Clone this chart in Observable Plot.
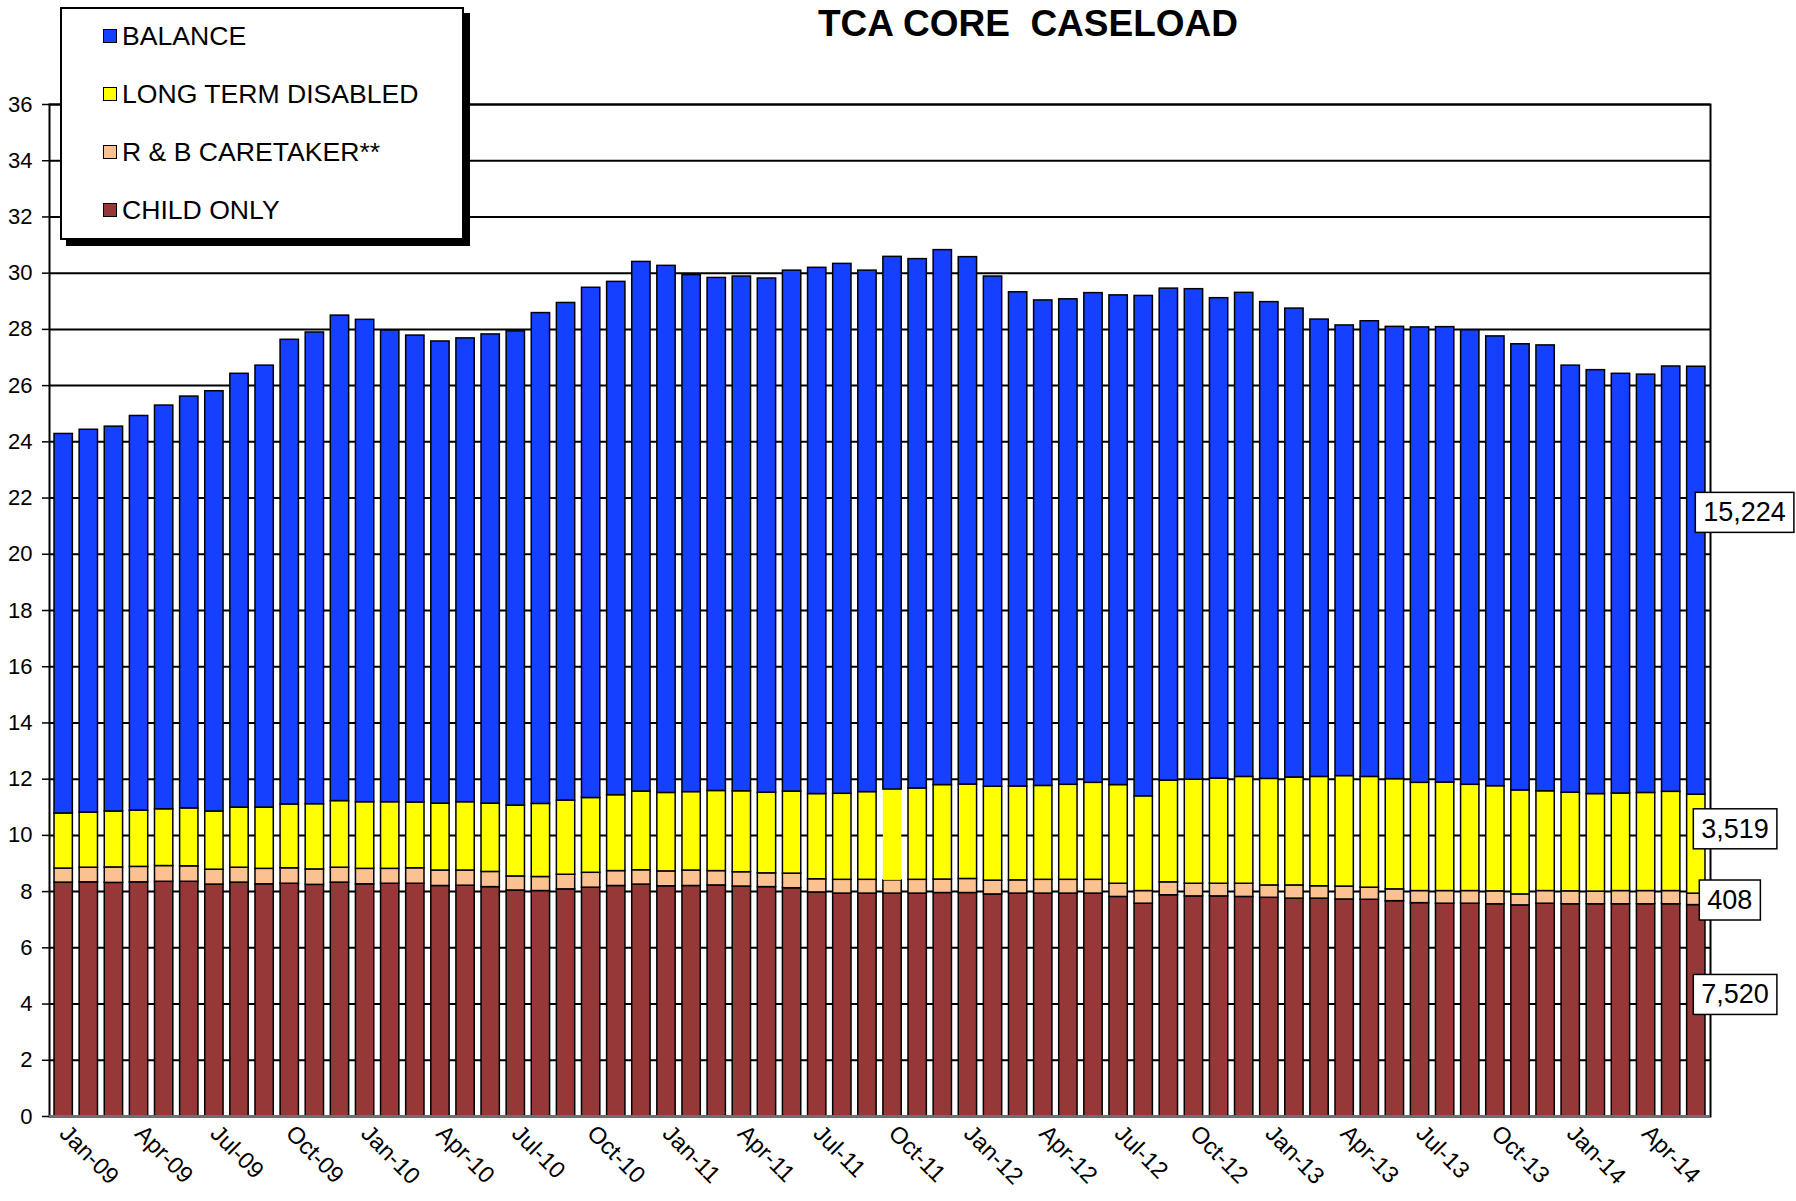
<!DOCTYPE html>
<html>
<head>
<meta charset="utf-8">
<script src="https://cdn.jsdelivr.net/npm/d3@7"></script>
<script src="https://cdn.jsdelivr.net/npm/@observablehq/plot@0.6"></script>
<style>
  html, body { margin: 0; padding: 0; background: #fff; }
  body { width: 1796px; height: 1201px; position: relative; overflow: hidden; font-family: "Liberation Sans", Arial, sans-serif; }
  #chart { position: absolute; left: 0; top: 0; }
  #title { position: absolute; left: 0; width: 2056px; top: 3px; text-align: center; font-weight: bold; font-size: 37px; white-space: pre; color: #000; }
  #legend { position: absolute; left: 60px; top: 7px; width: 400px; height: 229px; border: 2px solid #000; background: #fff; box-shadow: 6px 6px 0 #000; }
  .item { position: absolute; left: 41px; font-size: 26.6px; line-height: 30px; height: 30px; display: flex; align-items: center; white-space: pre; }
  .sw { width: 12px; height: 12px; border: 1.5px solid #000; margin-right: 5px; }
</style>
</head>
<body>
<div id="chart"></div>
<div id="title">TCA CORE  CASELOAD</div>
<div id="legend"></div>
<script>
// ---- data (thousands of cases) ----
const months = [
  "Jan-09","Feb-09","Mar-09","Apr-09","May-09","Jun-09","Jul-09","Aug-09","Sep-09","Oct-09","Nov-09","Dec-09",
  "Jan-10","Feb-10","Mar-10","Apr-10","May-10","Jun-10","Jul-10","Aug-10","Sep-10","Oct-10","Nov-10","Dec-10",
  "Jan-11","Feb-11","Mar-11","Apr-11","May-11","Jun-11","Jul-11","Aug-11","Sep-11","Oct-11","Nov-11","Dec-11",
  "Jan-12","Feb-12","Mar-12","Apr-12","May-12","Jun-12","Jul-12","Aug-12","Sep-12","Oct-12","Nov-12","Dec-12",
  "Jan-13","Feb-13","Mar-13","Apr-13","May-13","Jun-13","Jul-13","Aug-13","Sep-13","Oct-13","Nov-13","Dec-13",
  "Jan-14","Feb-14","Mar-14","Apr-14","May-14","Jun-14"
];
const childOnly = [
  8.32,8.33,8.31,8.33,8.35,8.35,8.25,8.32,8.26,8.28,8.24,8.32,
  8.26,8.28,8.28,8.20,8.21,8.16,8.04,8.02,8.08,8.14,8.20,8.25,
  8.19,8.20,8.22,8.18,8.16,8.12,7.97,7.93,7.93,7.93,7.93,7.95,
  7.95,7.90,7.93,7.93,7.93,7.93,7.81,7.57,7.87,7.83,7.83,7.81,
  7.78,7.75,7.75,7.72,7.71,7.66,7.59,7.57,7.57,7.55,7.51,7.57,
  7.55,7.55,7.55,7.55,7.55,7.520
];
const rbCaretaker = [
  0.50,0.52,0.55,0.55,0.56,0.55,0.53,0.53,0.55,0.55,0.55,0.53,
  0.55,0.53,0.55,0.55,0.54,0.54,0.50,0.50,0.52,0.53,0.53,0.51,
  0.53,0.55,0.51,0.51,0.49,0.52,0.47,0.49,0.49,0.47,0.49,0.48,
  0.50,0.49,0.47,0.49,0.49,0.49,0.47,0.45,0.46,0.45,0.45,0.47,
  0.44,0.47,0.44,0.46,0.43,0.42,0.43,0.45,0.45,0.46,0.39,0.45,
  0.46,0.45,0.47,0.47,0.47,0.408
];
const longTermDisabled = [
  1.96,1.96,1.99,2.00,2.02,2.06,2.07,2.14,2.18,2.27,2.32,2.37,
  2.37,2.37,2.34,2.38,2.43,2.43,2.52,2.60,2.64,2.66,2.70,2.80,
  2.79,2.79,2.85,2.88,2.87,2.92,3.03,3.06,3.12,3.23,3.25,3.36,
  3.36,3.34,3.34,3.34,3.38,3.45,3.51,3.37,3.62,3.70,3.74,3.80,
  3.79,3.84,3.89,3.93,3.94,3.92,3.85,3.86,3.78,3.74,3.70,3.55,
  3.51,3.47,3.47,3.49,3.53,3.519
];
const balance = [
  13.50,13.62,13.69,14.04,14.36,14.65,14.95,15.43,15.72,16.53,16.78,17.27,
  17.16,16.78,16.61,16.44,16.50,16.69,16.87,17.46,17.70,18.15,18.26,18.84,
  18.75,18.39,18.25,18.31,18.29,18.53,18.72,18.85,18.55,18.95,18.83,19.03,
  18.76,18.15,17.58,17.27,17.27,17.42,17.42,17.80,17.50,17.45,17.09,17.22,
  16.96,16.68,16.27,16.03,16.21,16.09,16.20,16.20,16.17,16.00,15.87,15.86,
  15.19,15.08,14.93,14.88,15.13,15.224
];
const seriesNames = ["CHILD ONLY", "R & B CARETAKER**", "LONG TERM DISABLED", "BALANCE"];
const legendOrder = ["BALANCE", "LONG TERM DISABLED", "R & B CARETAKER**", "CHILD ONLY"];
const endLabels = ["7,520", "408", "3,519", "15,224"]; // same order as seriesNames
const yTicks = [0,2,4,6,8,10,12,14,16,18,20,22,24,26,28,30,32,34,36];

// ---- styles ----
const colors = {
  "CHILD ONLY": "#963838",
  "R & B CARETAKER**": "#fbc190",
  "LONG TERM DISABLED": "#ffff00",
  "BALANCE": "#1540ff"
};
const labelDy = {"CHILD ONLY": -16, "R & B CARETAKER**": 1, "LONG TERM DISABLED": -15, "BALANCE": -68};
const labelDx = {"CHILD ONLY": 5, "R & B CARETAKER**": 11, "LONG TERM DISABLED": 5, "BALANCE": 7};

// ---- build table ----
const seriesValues = [childOnly, rbCaretaker, longTermDisabled, balance];
const table = [];
months.forEach((m, i) => {
  seriesNames.forEach((s, j) => table.push({month: m, series: s, value: seriesValues[j][i]}));
});

// mid points of the last bar's segments for the end labels
const last = months.length - 1;
let acc = 0;
const labelRows = seriesNames.map((s, j) => {
  const v = seriesValues[j][last];
  const row = {month: months[last], series: s, mid: acc + v / 2, text: endLabels[j]};
  acc += v;
  return row;
});

const font = "'Liberation Sans', Arial, sans-serif";

const plot = Plot.plot({
  width: 1796,
  height: 1201,
  marginLeft: 49,
  marginRight: 86,
  marginTop: 104,
  marginBottom: 85,
  style: {fontFamily: font, background: "white", color: "black"},
  x: {domain: months, paddingInner: 0.27, paddingOuter: 0.2, round: false, label: null},
  y: {domain: [0, 36], label: null},
  marks: [
    Plot.gridY(yTicks, {stroke: "black", strokeOpacity: 1, strokeWidth: 2}),
    Plot.barY(table, {
      x: "month", y: "value",
      fill: d => colors[d.series],
      stroke: d => (d.month === "Oct-11" && d.series === "LONG TERM DISABLED") ? "none" : "black",
      strokeWidth: 1.5
    }),
    Plot.frame({stroke: "black", strokeWidth: 2}),
    Plot.ruleY([0], {stroke: "#6e6e6e", strokeWidth: 3}),
    Plot.axisY(yTicks, {tickSize: 7, tickPadding: 10, fontSize: 22, tickFormat: d => String(d), strokeWidth: 1.5}),
    Plot.axisX(months.filter((d, i) => i % 3 === 0), {tickSize: 0, tickRotate: 45, tickPadding: 13, fontSize: 23.5}),
    ...labelRows.map(r => Plot.text([r], {
      x: "month", y: "mid", text: "text",
      textAnchor: "start", dx: labelDx[r.series], dy: labelDy[r.series],
      fontSize: 27, fill: "black", className: "endlabel"
    }))
  ]
});
document.getElementById("chart").appendChild(plot);

// white boxes with a thin black border behind the end labels
plot.querySelectorAll("g.endlabel text").forEach(t => {
  const b = t.getBBox();
  const r = document.createElementNS("http://www.w3.org/2000/svg", "rect");
  r.setAttribute("x", b.x - 8);
  r.setAttribute("y", b.y - 5);
  r.setAttribute("width", b.width + 16);
  r.setAttribute("height", b.height + 10);
  r.setAttribute("fill", "white");
  r.setAttribute("stroke", "black");
  r.setAttribute("stroke-width", 1.5);
  const tr = t.getAttribute("transform");
  if (tr) r.setAttribute("transform", tr);
  t.parentNode.insertBefore(r, t);
});

// legend
const legend = document.getElementById("legend");
legendOrder.forEach((s, i) => {
  const it = document.createElement("div");
  it.className = "item";
  it.style.top = (11.5 + i * 58) + "px";
  const sw = document.createElement("div");
  sw.className = "sw";
  sw.style.background = colors[s];
  it.appendChild(sw);
  it.appendChild(document.createTextNode(s));
  legend.appendChild(it);
});
</script>
</body>
</html>
